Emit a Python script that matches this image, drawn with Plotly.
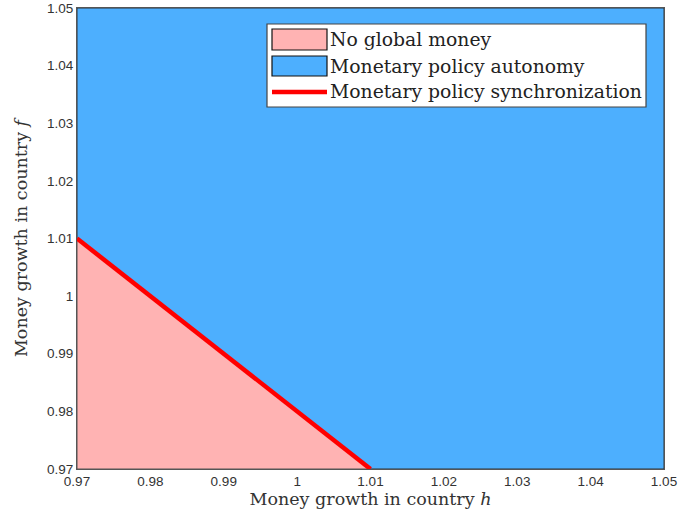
import plotly.graph_objects as go

ticks = [0.97, 0.98, 0.99, 1.0, 1.01, 1.02, 1.03, 1.04, 1.05]
tick_text = ["0.97", "0.98", "0.99", "1", "1.01", "1.02", "1.03", "1.04", "1.05"]
axis_range = [0.97, 1.05]

# Monetary policy autonomy region (whole square)
auto_h = [0.97, 1.05, 1.05, 0.97, 0.97]
auto_f = [0.97, 0.97, 1.05, 1.05, 0.97]
# No global money region (triangle)
nogm_h = [0.97, 1.01, 0.97, 0.97]
nogm_f = [0.97, 0.97, 1.01, 0.97]
# Synchronization line
sync_h = [0.97, 1.01]
sync_f = [1.01, 0.97]

legend_names = ["No global money", "Monetary policy autonomy",
                "Monetary policy synchronization"]

blue = "#4daffe"
pink = "#ffb3b3"
red = "#ff0000"

W, H = 678, 525
ML, MR, MT, MB = 77, 14, 8, 56
PW, PH = W - ML - MR, H - MT - MB


def px(xp):
    return (xp - ML) / PW


def py(yp):
    return (H - MB - yp) / PH


fig = go.Figure()
fig.add_trace(go.Scatter(x=auto_h, y=auto_f, fill="toself", fillcolor=blue,
                         mode="lines", line=dict(color="#333333", width=1),
                         name=legend_names[1], showlegend=False))
fig.add_trace(go.Scatter(x=nogm_h, y=nogm_f, fill="toself", fillcolor=pink,
                         mode="lines", line=dict(color="#555555", width=1),
                         name=legend_names[0], showlegend=False))
fig.add_trace(go.Scatter(x=sync_h, y=sync_f, mode="lines",
                         line=dict(color=red, width=4.5),
                         name=legend_names[2], showlegend=False))

serif = "DejaVu Serif, serif"
sans = "Liberation Sans, Arial, sans-serif"

# manual legend (box, swatches, labels)
shapes = [
    dict(type="rect", xref="paper", yref="paper",
         x0=px(267), x1=px(646), y0=py(107), y1=py(24),
         fillcolor="white", line=dict(color="#444444", width=1.2)),
    dict(type="rect", xref="paper", yref="paper",
         x0=px(272), x1=px(327), y0=py(50), y1=py(29),
         fillcolor=pink, line=dict(color="#111111", width=1.2)),
    dict(type="rect", xref="paper", yref="paper",
         x0=px(272), x1=px(327), y0=py(76), y1=py(56),
         fillcolor=blue, line=dict(color="#111111", width=1.2)),
    dict(type="line", xref="paper", yref="paper",
         x0=px(272), x1=px(327), y0=py(92), y1=py(92),
         line=dict(color=red, width=4.5)),
]
annotations = []
for name, yc in zip(legend_names, [39.5, 66, 92]):
    annotations.append(dict(xref="paper", yref="paper", x=px(328), y=py(yc),
                            xanchor="left", yanchor="middle", showarrow=False,
                            text=name,
                            font=dict(family=serif, size=18.8, color="#222222")))

axis_common = dict(range=axis_range, tickvals=ticks, ticktext=tick_text,
                   showgrid=False, zeroline=False, showline=True, mirror=True,
                   linecolor="#555555", linewidth=1, ticks="", automargin=False,
                   ticklabeloverflow="allow",
                   tickfont=dict(family=sans, size=13.5, color="#333333"))

fig.update_layout(
    width=W, height=H,
    margin=dict(l=ML, r=MR, t=MT, b=MB),
    paper_bgcolor="white", plot_bgcolor=blue,
    showlegend=False,
    shapes=shapes, annotations=annotations,
    xaxis=dict(**axis_common,
               title=dict(text="Money growth in country <i>h</i>",
                          font=dict(family=serif, size=17.5, color="#333333"),
                          standoff=4)),
    yaxis=dict(**axis_common,
               title=dict(text="Money growth in country <i>f</i>",
                          font=dict(family=serif, size=17.5, color="#333333"),
                          standoff=14)),
)

fig.write_html("out.html")
